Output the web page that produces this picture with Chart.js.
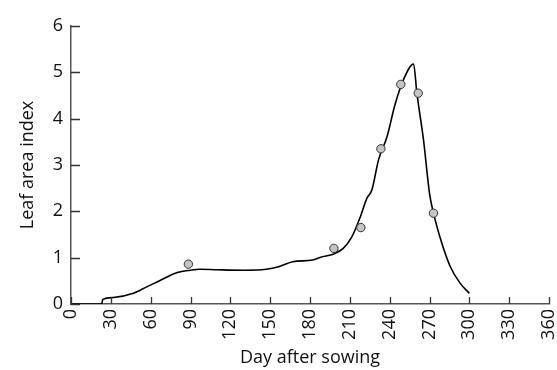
<!DOCTYPE html>
<html>
<head>
<meta charset="utf-8">
<script src="https://cdn.jsdelivr.net/npm/chart.js@4/dist/chart.umd.min.js"></script>
<style>
  html, body { margin: 0; padding: 0; background: #fff; }
  #wrap { width: 557px; height: 370px; }
</style>
</head>
<body>
<div id="wrap"><canvas id="lai-chart" width="557" height="370"></canvas></div>
<script>
// simulated LAI curve (day after sowing -> LAI)
const curveDays = [0, 23, 24, 32, 47, 57, 63, 70, 80, 90, 97, 110, 130, 147, 157, 167, 182, 188, 198, 205, 211.5, 218, 222.8, 226.6, 231.6, 238, 244, 250.4, 258, 260.5, 265.5, 270, 273, 279.3, 285.6, 293, 300];
const curveLai  = [0, 0, 0.1, 0.14, 0.23, 0.37, 0.45, 0.55, 0.68, 0.73, 0.75, 0.74, 0.73, 0.75, 0.81, 0.91, 0.95, 1.01, 1.08, 1.2, 1.45, 1.89, 2.28, 2.46, 3.11, 3.61, 4.3, 4.84, 5.18, 4.55, 3.54, 2.39, 1.96, 1.31, 0.81, 0.45, 0.23];

// observed LAI
const obsDays = [88.4, 198, 218.3, 233.4, 248.4, 261.5, 273];
const obsLai  = [0.86, 1.2, 1.65, 3.35, 4.74, 4.55, 1.96];

const xTicks = [0, 30, 60, 90, 120, 150, 180, 210, 240, 270, 300, 330, 360];
const yTicks = [0, 1, 2, 3, 4, 5, 6];

const FONT = 'Open Sans';

// ticks drawn on the inside of the axes
const inwardTicks = {
    id: 'inwardTicks',
    afterDraw(chart) {
        const { ctx, chartArea, scales: { x, y } } = chart;
        ctx.save();
        ctx.strokeStyle = '#333';
        ctx.lineWidth = 1.3;
        ctx.beginPath();
        x.ticks.forEach(t => {
            const px = Math.round(x.getPixelForValue(t.value)) + 0.5;
            ctx.moveTo(px, chartArea.bottom);
            ctx.lineTo(px, chartArea.bottom - 7);
        });
        y.ticks.forEach(t => {
            const py = Math.round(y.getPixelForValue(t.value)) + 0.5;
            ctx.moveTo(chartArea.left, py);
            ctx.lineTo(chartArea.left + 9, py);
        });
        ctx.stroke();
        ctx.restore();
    }
};

const ctx = document.getElementById('lai-chart').getContext('2d');
new Chart(ctx, {
    type: 'scatter',
    data: {
        datasets: [{
            label: 'Observed',
            data: obsDays.map((d, i) => ({ x: d, y: obsLai[i] })),
            pointRadius: 4.2,
            pointBackgroundColor: '#c4c4c4',
            pointBorderColor: '#333',
            pointBorderWidth: 1,
            order: 0
        }, {
            label: 'Simulated',
            data: curveDays.map((d, i) => ({ x: d, y: curveLai[i] })),
            showLine: true,
            borderColor: '#000',
            borderWidth: 1.6,
            pointRadius: 0,
            cubicInterpolationMode: 'monotone',
            order: 1
        }]
    },
    options: {
        responsive: false,
        animation: false,
        layout: { padding: { top: 26, right: 8, left: 0, bottom: 0 } },
        plugins: {
            legend: { display: false },
            tooltip: { enabled: false }
        },
        scales: {
            x: {
                type: 'linear',
                min: 0,
                max: 360,
                afterBuildTicks: (s) => { s.ticks = xTicks.map(v => ({ value: v })); },
                afterFit: (s) => { s.height = 66; s.paddingLeft = 0; s.paddingRight = 0; },
                grid: { display: false, drawTicks: false },
                border: { display: true, color: '#555', width: 1.5 },
                ticks: {
                    color: '#111',
                    font: { family: FONT, size: 18 },
                    minRotation: 90,
                    maxRotation: 90,
                    padding: 5,
                    autoSkip: false
                },
                title: {
                    display: true,
                    text: 'Day after sowing',
                    color: '#111',
                    font: { family: FONT, size: 18 },
                    padding: { top: 0, bottom: 1 }
                }
            },
            y: {
                min: 0,
                max: 6,
                afterBuildTicks: (s) => { s.ticks = yTicks.map(v => ({ value: v })); },
                afterFit: (s) => { s.width = 71; },
                grid: { display: false, drawTicks: false },
                border: { display: true, color: '#555', width: 1.5 },
                ticks: {
                    color: '#111',
                    font: { family: FONT, size: 18 },
                    padding: 8
                },
                title: {
                    display: true,
                    text: 'Leaf area index',
                    color: '#111',
                    font: { family: FONT, size: 18 },
                    padding: { top: 17, bottom: 0 }
                }
            }
        }
    },
    plugins: [inwardTicks]
});
</script>
</body>
</html>
